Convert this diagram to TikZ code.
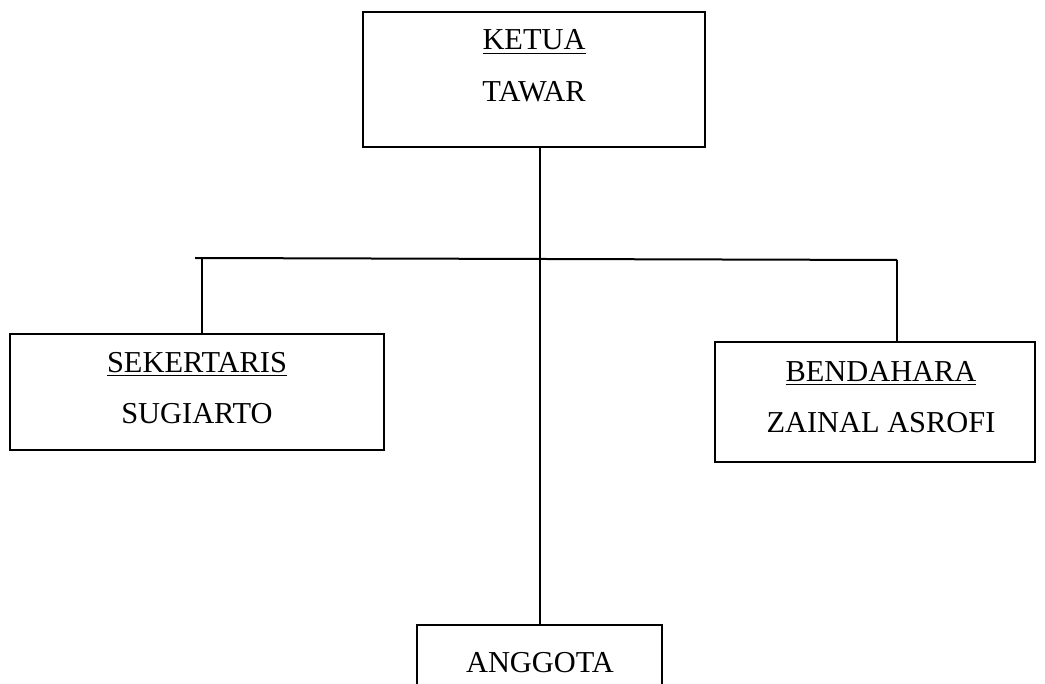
\documentclass[tikz,border=0pt]{standalone}
\usepackage{fontspec}
\setmainfont{Liberation Serif}
\begin{document}
\begin{tikzpicture}[x=0.5pt, y=-0.5pt, line width=1pt,
    box/.style={draw, rectangle, inner sep=0pt},
    txt/.style={anchor=base, inner sep=0pt, font=\fontsize{15.2}{18}\selectfont}]
    \useasboundingbox (0,0) rectangle (1045,684);
    \clip (0,0) rectangle (1045,684);

    \node[box, minimum width=171pt, minimum height=67.5pt] (ketua) at (534,79.5) {};
    \node[box, minimum width=187pt, minimum height=58pt] (sek) at (197,392) {};
    \node[box, minimum width=160pt, minimum height=60pt] (ben) at (875,402) {};
    \node[box, minimum width=122.5pt, minimum height=40pt] (ang) at (539.5,665) {};

    \node[txt] (ketuaJab) at (534,50) {\underline{KETUA}};
    \node[txt] (ketuaNama) at (534,102) {TAWAR};
    \node[txt] (sekJab) at (197,372) {\underline{SEKERTARIS}};
    \node[txt] (sekNama) at (197,423) {SUGIARTO};
    \node[txt] (benJab) at (881,382) {\underline{BENDAHARA}};
    \node[txt] (benNama) at (881,432) {ZAINAL ASROFI};
    \node[txt] (angJab) at (540,672) {ANGGOTA};

    \coordinate (barL) at (195,258);
    \coordinate (jS) at (202,258);
    \coordinate (jB) at (897,260);

    \draw (ketua.south -| ang.north) -- (ang.north);
    \draw (barL) -- (jB);
    \draw (jS) -- (jS |- sek.north);
    \draw (jB) -- (jB |- ben.north);
\end{tikzpicture}
\end{document}
